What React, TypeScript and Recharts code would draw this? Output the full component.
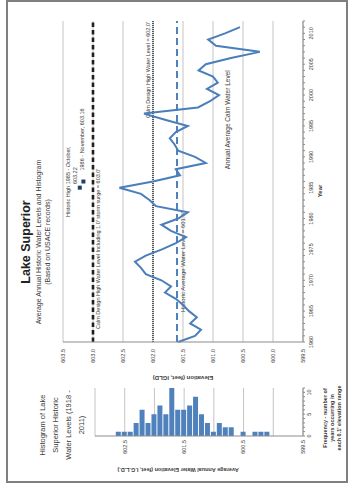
import React from "react"
import {
  Bar,
  BarChart,
  CartesianGrid,
  Line,
  LineChart,
  ReferenceDot,
  ReferenceLine,
  XAxis,
  YAxis,
} from "recharts"

// annual average calm water level, Lake Superior (ft, IGLD)
const years = [
  1960, 1961, 1962, 1963, 1964, 1965, 1966, 1967, 1968, 1969,
  1970, 1971, 1972, 1973, 1974, 1975, 1976, 1977, 1978, 1979,
  1980, 1981, 1982, 1983, 1984, 1985, 1986, 1987, 1988, 1989,
  1990, 1991, 1992, 1993, 1994, 1995, 1996, 1997, 1998, 1999,
  2000, 2001, 2002, 2003, 2004, 2005, 2006, 2007, 2008, 2009,
  2010, 2011,
]
const annualLevels = [
  601.58, 601.3, 601.2, 601.38, 601.27, 601.4, 601.5, 601.62, 601.8, 601.7,
  601.86, 602.12, 602.2, 602.3, 602.12, 601.85, 601.62, 601.45, 601.7, 601.86,
  601.58, 601.42, 601.95, 602.06, 602.2, 602.56, 602.0, 601.55, 601.62, 601.12,
  601.3, 601.58, 601.64, 601.72, 601.62, 601.42, 601.8, 602.15, 601.25, 601.05,
  600.9, 601.1, 600.92, 601.0, 601.24, 601.12, 600.7, 600.22, 600.95, 601.08,
  600.8, 600.55,
]

const yearTicks = Array.from({ length: 53 }, (_, i) => 1960 + i)
const elevationTicks = [599.5, 600, 600.5, 601, 601.5, 602, 602.5, 603, 603.5]

// design levels
const averageLevel = 601.6
const designLevel = 602.0
const surgeLevel = 603.0

// monthly historic highs
const highYears = [1985, 1986]
const highLevels = [603.22, 603.16]

// histogram 1918 - 2011, 0.1 ft bins
const histBins = [
  600.1, 600.2, 600.3, 600.5, 600.7, 600.8, 600.9, 601.0, 601.1, 601.2,
  601.3, 601.4, 601.5, 601.6, 601.7, 601.8, 601.9, 602.0, 602.1, 602.2,
  602.3, 602.4, 602.5, 602.6,
]
const histCounts = [
  1, 1, 1, 1, 2, 2, 3, 1, 3, 5,
  9, 7, 6, 6, 11, 5, 7, 5, 3, 6,
  3, 1, 1, 1,
]
const histElevTicks = [599.5, 600, 600.5, 601, 601.5, 602, 602.5, 603]
const freqTicks = [0, 1, 2, 3, 4, 5, 6, 7, 8, 9, 10, 11]

const lineData = years.map((year, i) => ({ year, level: annualLevels[i] }))
const histData = histBins.map((elev, i) => ({ elev, count: histCounts[i] }))

const W = 484
const H = 354
const FONT = "'Liberation Sans', Arial, sans-serif"
const TEXT = "#3a3a3a"
const AXIS = "#8c8c8c"
const GRID = "#c4c4c4"
const BLUE = "#4a7ebb"

function YearTick({ x, y, payload }: any) {
  if (payload.value % 5 !== 0) return <g />
  return (
    <text x={x} y={y} dy="0.71em" textAnchor="middle" fontSize={5.5} fill={TEXT} fontFamily={FONT}>
      {payload.value}
    </text>
  )
}

function HistElevTick({ x, y, payload }: any) {
  const v = payload.value
  if (Math.abs((v - 599.5) % 1) > 0.01) return <g />
  return (
    <text x={x} y={y} dy="0.35em" textAnchor="end" fontSize={5.5} fill={TEXT} fontFamily={FONT}>
      {v.toFixed(1)}
    </text>
  )
}

function FreqTick({ x, y, payload }: any) {
  if (payload.value % 5 !== 0) return <g />
  return (
    <text x={x} y={y} dy="0.71em" textAnchor="middle" fontSize={5.5} fill={TEXT} fontFamily={FONT}>
      {payload.value}
    </text>
  )
}

const smallText = { fontSize: 5.5, fill: TEXT, fontFamily: FONT }

const surgeLabel = ({ viewBox }: any) => (
  <text x={viewBox.x + 13} y={viewBox.y + 7} {...smallText}>
    Calm Design High Water Level Including 1.0' storm surge = {surgeLevel.toFixed(1)}'
  </text>
)

const designLabel = ({ viewBox }: any) => (
  <text x={viewBox.x + viewBox.width - 1} y={viewBox.y - 3} textAnchor="end" {...smallText}>
    Calm Design High Water Level = {designLevel.toFixed(1)}'
  </text>
)

const averageLabel = ({ viewBox }: any) => (
  <text x={viewBox.x + 30} y={viewBox.y + 7.5} {...smallText} fontSize={6}>
    Historic Average Water Level = {averageLevel.toFixed(1)}'
  </text>
)

const squareMarker = (p: any) => (
  <rect x={p.cx - 2} y={p.cy - 2} width={4} height={4} fill="#1f3f6e" />
)

const high1Label = ({ viewBox }: any) => {
  const cx = viewBox.x + viewBox.width / 2
  const cy = viewBox.y + viewBox.height / 2
  return (
    <g>
      <text x={cx + 6} y={cy - 10} textAnchor="middle" {...smallText}>
        Historic High {highYears[0]} - October,
      </text>
      <text x={cx + 12} y={cy - 3} textAnchor="middle" {...smallText}>
        {highLevels[0].toFixed(2)}
      </text>
    </g>
  )
}

const high2Label = ({ viewBox }: any) => {
  const cx = viewBox.x + viewBox.width / 2
  const cy = viewBox.y + viewBox.height / 2
  return (
    <text x={cx + 11} y={cy + 0.5} {...smallText}>
      {highYears[1]} - November, {highLevels[1].toFixed(2)}
    </text>
  )
}

const seriesLabel = ({ viewBox }: any) => (
  <text x={viewBox.x} y={viewBox.y} dy="0.35em" textAnchor="middle" {...smallText} fontSize={6.5}>
    Annual Average Calm Water Level
  </text>
)

export default function App() {
  return (
    <div style={{ position: "fixed", left: 0, top: 0, width: 354, height: 484, background: "#fff", overflow: "hidden" }}>
      {/* landscape sheet, turned a quarter to the left */}
      <div
        style={{
          position: "absolute",
          left: 0,
          top: 0,
          width: W,
          height: H,
          transformOrigin: "0 0",
          transform: `translateY(${W}px) rotate(-90deg)`,
        }}
      >
        <svg width={W} height={H} style={{ position: "absolute", left: 0, top: 0 }} fontFamily={FONT}>
          <rect x={2} y={7} width={481} height={340} fill="#fff" stroke="#7f7f7f" strokeWidth={2} />
          <text x={242} y={30} textAnchor="middle" fontSize={12.5} fontWeight="bold" fill="#222">
            Lake Superior
          </text>
          <text x={242} y={40.5} textAnchor="middle" fontSize={7} fill={TEXT}>
            Average Annual Historic Water Levels and Histogram
          </text>
          <text x={242} y={50} textAnchor="middle" fontSize={7} fill={TEXT}>
            (Based on USACE records)
          </text>

          <text x={59} textAnchor="middle" fontSize={7.5} fill={TEXT}>
            <tspan x={59} y={44.5}>Histogram of Lake</tspan>
            <tspan x={59} y={57.5}>Superior Historic</tspan>
            <tspan x={59} y={70.5}>Water Levels (1918 -</tspan>
            <tspan x={59} y={84}>2011)</tspan>
          </text>

          <text
            transform="translate(108 183) rotate(-90)"
            textAnchor="middle"
            fontSize={6}
            fontWeight="bold"
            fill={TEXT}
          >
            Elevation (feet, IGLD)
          </text>
          <text x={293} y={322} textAnchor="middle" fontSize={6} fontWeight="bold" fill={TEXT}>
            Year
          </text>

          <text
            transform="translate(16 178) rotate(-90)"
            textAnchor="middle"
            fontSize={5.5}
            fontWeight="bold"
            fill={TEXT}
          >
            Average Annual Water Elevation (feet, I.G.L.D.)
          </text>
          <text textAnchor="middle" fontSize={5.5} fontWeight="bold" fill={TEXT}>
            <tspan x={66} y={327}>Frequency - number of</tspan>
            <tspan x={66} y={334}>years occurring in</tspan>
            <tspan x={66} y={341}>each 0.1' elevation range</tspan>
          </text>
        </svg>

        <div style={{ position: "absolute", left: 0, top: 0 }}>
          <LineChart
            width={W}
            height={H}
            data={lineData}
            margin={{ top: 63, right: 21, bottom: 31, left: 112 }}
          >
            <CartesianGrid vertical={false} stroke={GRID} />
            <XAxis
              type="number"
              dataKey="year"
              domain={[1960, 2012]}
              ticks={yearTicks}
              interval={0}
              height={20}
              tick={<YearTick />}
              tickSize={2}
              tickMargin={4}
              stroke={AXIS}
            />
            <YAxis
              type="number"
              domain={[599.5, 603.5]}
              ticks={elevationTicks}
              interval={0}
              width={30}
              tickLine={false}
              tickSize={4}
              tickMargin={3}
              tickFormatter={(v: number) => v.toFixed(1)}
              tick={{ fontSize: 5.5, fill: TEXT, fontFamily: FONT }}
              stroke={AXIS}
            />
            <ReferenceLine y={surgeLevel} stroke="#1e1e1e" strokeWidth={2.6} strokeDasharray="4.5 3" label={surgeLabel} />
            <ReferenceLine y={designLevel} stroke="#555" strokeWidth={2} strokeDasharray="1 1" label={designLabel} />
            <ReferenceLine y={averageLevel} stroke="#4f81bd" strokeWidth={2} strokeDasharray="7 4" label={averageLabel} />
            <Line
              type="linear"
              dataKey="level"
              stroke={BLUE}
              strokeWidth={2}
              dot={false}
              isAnimationActive={false}
            />
            <ReferenceDot x={highYears[0]} y={highLevels[0]} r={2} shape={squareMarker} label={high1Label} />
            <ReferenceDot x={highYears[1]} y={highLevels[1]} r={2} shape={squareMarker} label={high2Label} />
            <ReferenceDot x={1996} y={600.75} r={0} fill="none" stroke="none" label={seriesLabel} />
          </LineChart>
        </div>

        <div style={{ position: "absolute", left: 0, top: 0 }}>
          <BarChart
            width={120}
            height={H}
            data={histData}
            layout="vertical"
            margin={{ top: 95, right: 24, bottom: 31, left: 28 }}
          >
            <CartesianGrid vertical={false} stroke={GRID} />
            <XAxis
              type="number"
              dataKey="count"
              domain={[0, 11]}
              ticks={freqTicks}
              interval={0}
              height={20}
              tick={<FreqTick />}
              tickSize={2}
              tickMargin={2}
              stroke={AXIS}
            />
            <YAxis
              type="number"
              dataKey="elev"
              domain={[599.5, 603]}
              reversed
              ticks={histElevTicks}
              interval={0}
              width={20}
              tickLine={false}
              tickSize={0}
              tickMargin={4}
              tick={<HistElevTick />}
              stroke={AXIS}
            />
            <Bar dataKey="count" fill="#4f81bd" barSize={5} isAnimationActive={false} />
          </BarChart>
        </div>
      </div>
    </div>
  )
}
